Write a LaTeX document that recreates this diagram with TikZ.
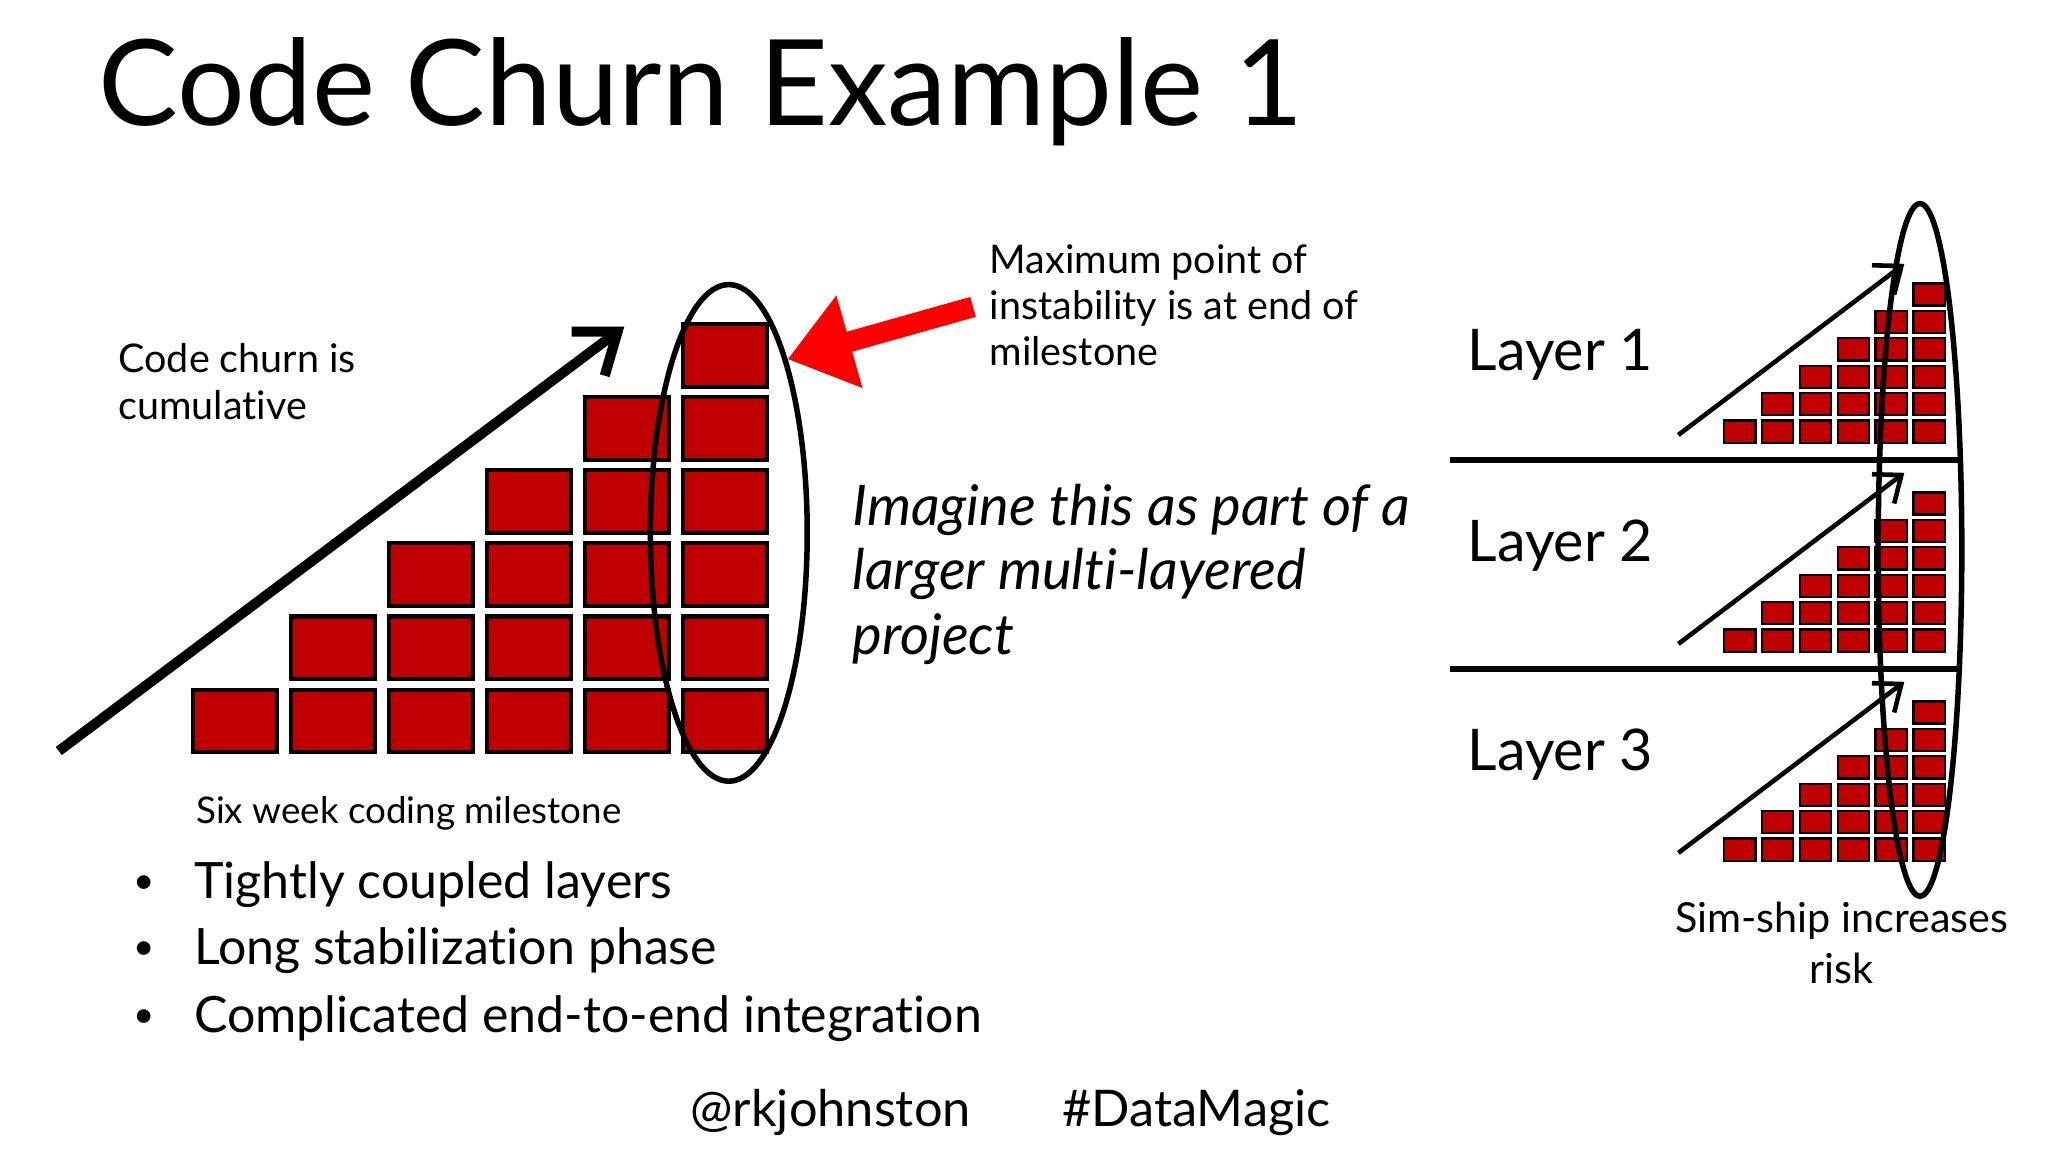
\documentclass[tikz,border=0pt]{standalone}
\usepackage{fontspec}
\setmainfont[Ligatures=CommonOff]{Lato}
\usetikzlibrary{arrows.meta,shapes.geometric}
\definecolor{churn}{HTML}{C00000}
\begin{document}
\begin{tikzpicture}[x=0.01cm,y=-0.01cm,
  bigsq/.style={fill=churn,draw=black,line width=0.9pt},
  smsq/.style={fill=churn,draw=black,line width=0.5pt},
  txt/.style={inner sep=0pt,align=left,anchor=north west}]
\useasboundingbox (0,0) rectangle (1568,882);
\node[txt,font=\fontsize{26}{30}\selectfont] (title) at (75,28) {Code Churn Example 1};
% big chart
\foreach \c in {0,...,5}{
  \foreach \r in {0,...,\c}{
    \draw[bigsq] (148+75*\c,528-56*\r) rectangle ++(64,48);
  }}
\coordinate (a1) at (45,575); \coordinate (a2) at (478,250);
\draw[line width=2.2pt,-{Straight Barb[length=8pt,width=12pt]}] (a1) -- (a2);
\node[ellipse,draw,line width=1.2pt,minimum width=1.2cm,minimum height=3.8cm,inner sep=0pt] (ell) at (558,408) {};
\coordinate (r1) at (745,235); \coordinate (r2) at (603,275);
\draw[red,line width=4.5pt,-{Triangle[length=14pt,width=20pt]}] (r1) -- (r2);
\node[txt,font=\fontsize{8.6}{10.2}\selectfont] (cc) at (90,262) {Code churn is\\cumulative};
\node[txt,font=\fontsize{8.6}{10}\selectfont] (mx) at (757,187) {Maximum point of\\instability is at end of\\milestone};
\node[txt,font=\fontsize{12.2}{14}\selectfont\itshape] (im) at (652,370) {Imagine this as part of a\\larger multi-layered\\project};
\node[font=\fontsize{8}{10}\selectfont,inner sep=0pt] (six) at (313,623) {Six week coding milestone};
\foreach \t/\y [count=\i] in {Tightly coupled layers/677,Long stabilization phase/728,Complicated end-to-end integration/780}{
  \node[font=\fontsize{8}{14}\selectfont,inner sep=0pt] (b\i) at (110,\y) {•};
  \node[font=\fontsize{10.9}{14}\selectfont,inner sep=0pt,anchor=west] (bt\i) at (148,\y) {\t};
}
\node[font=\fontsize{11}{14}\selectfont,inner sep=0pt] (f1) at (636,852) {@rkjohnston};
\node[font=\fontsize{11}{14}\selectfont,inner sep=0pt] (f2) at (916,852) {\#DataMagic};
% right side
\coordinate (l1a) at (1110,352); \coordinate (l1b) at (1500,352);
\coordinate (l2a) at (1110,512); \coordinate (l2b) at (1500,512);
\draw[line width=1.3pt] (l1a) -- (l1b);
\draw[line width=1.3pt] (l2a) -- (l2b);
\foreach \k/\ly in {0/272,1/418,2/578}{
  \node[font=\fontsize{12.5}{14}\selectfont,inner sep=0pt,anchor=west] (lay\k) at (1123,\ly) {Layer \the\numexpr\k+1\relax};
  \foreach \c in {0,...,5}{
    \foreach \r in {0,...,\c}{
      \draw[smsq] (1320+29*\c,322+160*\k-21*\r) rectangle ++(24,17);
    }}
  \coordinate (sa\k) at (1285,333+160*\k);
  \coordinate (sb\k) at (1458,202+160*\k);
  \draw[line width=1pt,-{Straight Barb[length=5pt,width=8pt]}] (sa\k) -- (sb\k);
}
\node[ellipse,draw,line width=1.2pt,minimum width=0.64cm,minimum height=5.3cm,inner sep=0pt] (rell) at (1470,421) {};
\node[font=\fontsize{9}{11}\selectfont,align=center,inner sep=0pt] (sim) at (1410,722) {Sim-ship increases\\risk};
\end{tikzpicture}
\end{document}
